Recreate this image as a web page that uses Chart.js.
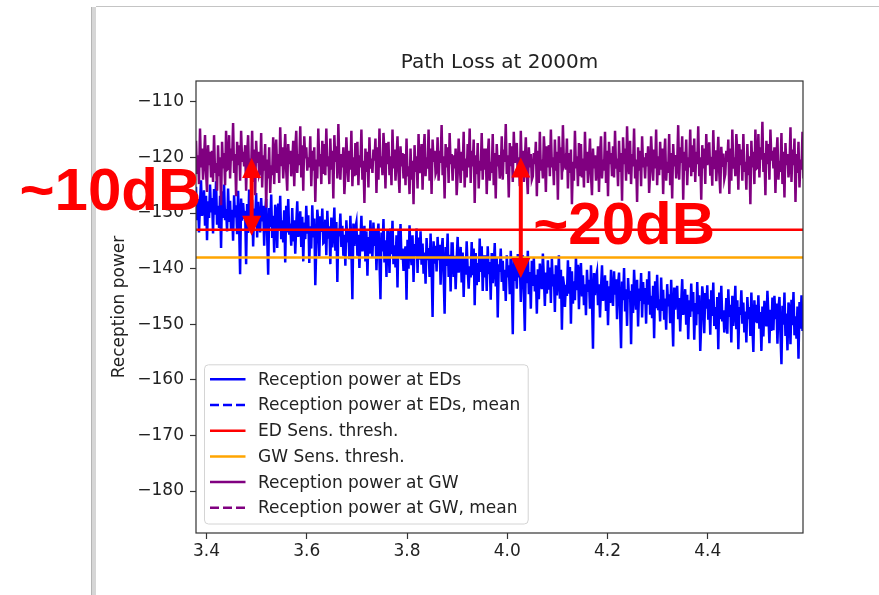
<!DOCTYPE html>
<html>
<head>
<meta charset="utf-8">
<title>Path Loss at 2000m</title>
<script src="https://cdn.jsdelivr.net/npm/chart.js@4.4.1/dist/chart.umd.min.js"></script>
<style>
  html, body { margin: 0; padding: 0; background: #fff; }
  #wrap { position: relative; width: 879px; height: 595px; overflow: hidden; }
  /* bits of the window frame that show in the screenshot */
  .edge-v { position: absolute; left: 91px; top: 7px; bottom: 0; width: 4px; background: #d6d6d6; border-left: 1px solid #b4b4b4; }
  .edge-h { position: absolute; left: 96px; right: 0; top: 6px; height: 1px; background: #c4c4c4; }
  canvas { position: absolute; left: 0; top: 0; }
</style>
</head>
<body>
<div id="wrap">
  <div class="edge-v"></div>
  <div class="edge-h"></div>
  <canvas id="plChart" width="879" height="595"></canvas>
</div>
<script>
// sample grid on the x axis, one sample every 0.002
const xStart = 3.379;
const xStep = 0.002;

// reception power at the end devices
const rxPowerED = [
  -125.3, -131.3, -127.5, -133.5, -128.3, -124.1, -130.5, -129.3, -125.9, -132.3, -126.9, -134.9, -127.9, -130.9, -124.9, -129.9,
  -127.3, -133.7, -125.7, -130.3, -124.3, -132.1, -128.7, -132.7, -126.9, -136.3, -126.1, -130.9, -124.9, -131.3, -129.3, -133.3,
  -125.6, -131.6, -127.8, -133.2, -129.4, -135.0, -126.8, -130.8, -128.6, -133.8, -126.0, -132.0, -141.0, -127.4, -131.4, -128.2,
  -131.0, -129.6, -139.2, -128.4, -133.6, -125.8, -130.4, -133.0, -127.6, -136.0, -129.2, -131.4, -126.4, -134.4, -128.0, -132.0,
  -133.5, -127.3, -131.5, -128.7, -135.9, -129.7, -127.5, -134.1, -141.1, -129.1, -132.5, -126.7, -134.5, -130.5, -137.1, -128.5,
  -129.9, -136.3, -128.3, -132.9, -126.9, -134.7, -131.3, -135.3, -129.5, -138.9, -128.7, -133.5, -127.5, -133.9, -131.9, -135.9,
  -129.1, -135.1, -131.3, -137.3, -132.1, -127.9, -134.3, -133.1, -129.7, -136.1, -130.7, -138.7, -131.7, -134.7, -128.7, -133.7,
  -130.4, -139.0, -132.4, -136.4, -128.6, -134.4, -131.0, -143.0, -136.0, -129.4, -131.6, -137.8, -130.6, -133.4, -129.2, -135.4,
  -135.2, -131.2, -137.6, -129.6, -134.6, -132.4, -139.2, -130.8, -136.2, -133.6, -129.0, -136.8, -131.6, -142.4, -132.8, -134.2,
  -130.1, -136.1, -132.3, -137.7, -133.9, -139.5, -131.3, -135.3, -133.1, -138.3, -130.5, -136.5, -145.5, -131.9, -135.9, -132.7,
  -131.7, -137.7, -133.9, -139.9, -134.7, -130.5, -136.9, -135.7, -132.3, -138.7, -133.3, -141.3, -134.3, -137.3, -131.3, -136.3,
  -137.9, -131.7, -135.9, -133.1, -140.3, -134.1, -131.9, -138.5, -145.5, -133.5, -136.9, -131.1, -138.9, -134.9, -141.5, -132.9,
  -134.4, -140.8, -132.8, -137.4, -131.4, -139.2, -135.8, -139.8, -134.0, -143.4, -133.2, -138.0, -132.0, -138.4, -136.4, -140.4,
  -137.4, -136.0, -145.6, -134.8, -140.0, -132.2, -136.8, -139.4, -134.0, -142.4, -135.6, -137.8, -132.8, -140.8, -134.4, -138.4,
  -133.3, -139.3, -135.5, -140.9, -137.1, -142.7, -134.5, -138.5, -136.3, -141.5, -133.7, -139.7, -148.7, -135.1, -139.1, -135.9,
  -140.5, -134.3, -138.5, -135.7, -142.9, -136.7, -134.5, -141.1, -148.1, -136.1, -139.5, -133.7, -141.5, -137.5, -144.1, -135.5,
  -135.5, -141.5, -137.7, -143.7, -138.5, -134.3, -140.7, -139.5, -136.1, -142.5, -137.1, -145.1, -138.1, -141.1, -135.1, -140.1,
  -143.6, -139.6, -141.6, -135.2, -141.2, -136.4, -146.6, -137.2, -143.0, -139.0, -142.4, -134.6, -140.6, -136.0, -144.0, -137.6,
  -141.6, -137.6, -144.0, -136.0, -141.0, -138.8, -145.6, -137.2, -142.6, -140.0, -135.4, -143.2, -138.0, -148.8, -139.2, -140.6,
  -136.4, -142.4, -138.6, -144.0, -140.2, -145.8, -137.6, -141.6, -139.4, -144.6, -136.8, -142.8, -151.8, -138.2, -142.2, -139.0,
  -143.6, -137.4, -141.6, -138.8, -146.0, -139.8, -137.6, -144.2, -151.2, -139.2, -142.6, -136.8, -144.6, -140.6, -147.2, -138.6,
  -143.1, -138.1, -144.1, -141.1, -148.1, -140.1, -145.5, -139.1, -142.5, -143.7, -137.3, -141.5, -146.7, -140.7, -144.5, -138.5,
  -143.8, -139.8, -146.2, -138.2, -143.2, -141.0, -147.8, -139.4, -144.8, -142.2, -137.6, -145.4, -140.2, -151.0, -141.4, -142.8,
  -146.9, -142.9, -144.9, -138.5, -144.5, -139.7, -149.9, -140.5, -146.3, -142.3, -145.7, -137.9, -143.9, -139.3, -147.3, -140.9,
  -139.0, -145.0, -141.2, -146.6, -142.8, -148.4, -140.2, -144.2, -142.0, -147.2, -139.4, -145.4, -154.4, -140.8, -144.8, -141.6,
  -140.6, -146.6, -142.8, -148.8, -143.6, -139.4, -145.8, -144.6, -141.2, -147.6, -142.2, -150.2, -143.2, -146.2, -140.2, -145.2,
  -146.7, -140.5, -144.7, -141.9, -149.1, -142.9, -140.7, -147.3, -154.3, -142.3, -145.7, -139.9, -147.7, -143.7, -150.3, -141.7,
  -145.4, -144.0, -153.6, -142.8, -148.0, -140.2, -144.8, -147.4, -142.0, -150.4, -143.6, -145.8, -140.8, -148.8, -142.4, -146.4,
  -143.5, -149.9, -141.9, -146.5, -140.5, -148.3, -144.9, -148.9, -143.1, -152.5, -142.3, -147.1, -141.1, -147.5, -145.5, -149.5,
  -141.6, -147.6, -143.8, -149.2, -145.4, -151.0, -142.8, -146.8, -144.6, -149.8, -142.0, -148.0, -154.0, -143.4, -147.4, -144.2,
  -143.1, -149.1, -145.3, -151.3, -146.1, -141.9, -148.3, -147.1, -143.7, -150.1, -144.7, -152.7, -145.7, -148.7, -142.7, -147.7,
  -144.2, -152.8, -146.2, -150.2, -142.4, -148.2, -144.8, -154.8, -149.8, -143.2, -145.4, -151.6, -144.4, -147.2, -143.0, -149.2,
  -145.5, -151.9, -143.9, -148.5, -142.5, -150.3, -146.9, -150.9, -145.1, -154.5, -144.3, -149.1, -143.1, -149.5, -147.5, -151.5,
  -149.3, -145.3, -151.7, -143.7, -148.7, -146.5, -153.3, -144.9, -150.3, -147.7, -143.1, -150.9, -145.7, -154.5, -146.9, -148.3,
  -143.9, -149.9, -146.1, -151.5, -147.7, -153.3, -145.1, -149.1, -146.9, -152.1, -144.3, -150.3, -155.0, -145.7, -149.7, -146.5,
  -149.8, -144.8, -150.8, -147.8, -154.8, -146.8, -152.2, -145.8, -149.2, -150.4, -144.0, -148.2, -153.4, -147.4, -151.2, -145.2,
  -151.1, -144.9, -149.1, -146.3, -153.5, -147.3, -145.1, -151.7, -157.2, -146.7, -150.1, -144.3, -152.1, -148.1, -154.7, -146.1,
  -147.2, -153.6, -145.6, -150.2, -144.2, -152.0, -148.6, -152.6, -146.8, -156.2, -146.0, -150.8, -144.8, -151.2, -149.2, -153.2
];

// reception power at the gateway
const rxPowerGW = [
  -117.0, -123.0, -119.6, -124.8, -114.8, -121.8, -118.4, -124.0, -120.2, -116.0, -122.6, -126.2, -117.8, -121.4, -119.0, -123.6,
  -118.8, -124.4, -116.0, -122.8, -121.0, -126.0, -117.8, -123.4, -120.0, -128.6, -117.2, -122.0, -119.2, -125.0, -115.2, -122.2,
  -122.0, -116.0, -123.8, -118.4, -120.6, -113.8, -122.8, -119.4, -127.0, -117.2, -121.4, -117.8, -124.2, -115.2, -120.8, -119.0,
  -121.6, -117.8, -126.0, -119.4, -116.0, -123.6, -120.2, -122.2, -115.2, -124.4, -118.6, -126.8, -117.0, -121.0, -119.0, -123.2,
  -122.6, -115.6, -125.4, -119.6, -122.4, -117.6, -129.0, -120.4, -123.8, -118.2, -126.4, -121.4, -123.2, -116.4, -124.8, -119.2,
  -116.8, -122.8, -119.4, -124.6, -114.6, -121.6, -118.2, -123.8, -120.0, -115.8, -122.4, -126.0, -117.6, -121.2, -118.8, -123.4,
  -120.8, -117.0, -125.2, -118.6, -115.2, -122.8, -119.4, -121.4, -114.4, -123.6, -117.8, -126.0, -116.2, -120.2, -118.2, -122.4,
  -120.0, -121.8, -116.2, -125.2, -118.8, -122.4, -118.2, -128.0, -120.4, -123.8, -114.8, -121.6, -119.4, -124.8, -117.0, -123.0,
  -117.6, -123.2, -114.8, -121.6, -119.8, -124.8, -116.6, -122.2, -118.8, -127.4, -116.0, -120.8, -118.0, -123.8, -114.0, -121.0,
  -124.0, -119.4, -121.8, -118.2, -126.6, -123.0, -116.4, -120.6, -124.4, -118.8, -122.2, -115.2, -125.2, -120.0, -123.4, -117.4,
  -123.2, -117.2, -125.0, -119.6, -121.8, -115.0, -124.0, -120.6, -128.2, -118.4, -122.6, -119.0, -125.4, -116.4, -122.0, -120.2,
  -122.8, -118.6, -120.6, -116.6, -126.4, -118.2, -124.0, -114.8, -121.8, -119.8, -123.2, -115.6, -119.0, -125.6, -117.4, -121.2,
  -117.2, -123.2, -119.8, -125.0, -115.0, -122.0, -118.6, -124.2, -120.4, -116.2, -122.8, -126.4, -118.0, -121.6, -119.2, -123.8,
  -119.4, -125.0, -116.6, -123.4, -121.6, -126.6, -118.4, -124.0, -120.6, -128.4, -117.8, -122.6, -119.8, -125.6, -115.8, -122.8,
  -121.4, -117.6, -125.8, -119.2, -115.8, -123.4, -120.0, -122.0, -115.0, -124.2, -118.4, -126.6, -116.8, -120.8, -118.8, -123.0,
  -122.4, -116.4, -124.2, -118.8, -121.0, -114.2, -123.2, -119.8, -127.4, -117.6, -121.8, -118.2, -124.6, -115.6, -121.2, -119.4,
  -124.2, -119.6, -122.0, -118.4, -126.8, -123.2, -116.6, -120.8, -124.6, -119.0, -122.4, -115.4, -125.4, -120.2, -123.6, -117.6,
  -121.8, -114.8, -124.6, -118.8, -121.6, -116.8, -128.2, -119.6, -123.0, -117.4, -125.6, -120.6, -122.4, -115.6, -124.0, -118.4,
  -122.2, -118.4, -126.6, -120.0, -116.6, -124.2, -120.8, -122.8, -115.8, -125.0, -119.2, -127.4, -117.6, -121.6, -119.6, -123.8,
  -122.2, -116.2, -124.0, -118.6, -120.8, -114.0, -123.0, -119.6, -127.2, -117.4, -121.6, -118.0, -124.4, -115.4, -121.0, -119.2,
  -117.4, -123.4, -120.0, -125.2, -115.2, -122.2, -118.8, -124.4, -120.6, -116.4, -123.0, -126.6, -118.2, -121.8, -119.4, -124.0,
  -123.4, -119.2, -121.2, -117.2, -127.0, -118.8, -124.6, -115.4, -122.4, -120.4, -123.8, -116.2, -119.6, -126.2, -118.0, -121.8,
  -117.8, -123.4, -115.0, -121.8, -120.0, -125.0, -116.8, -122.4, -119.0, -127.6, -116.2, -121.0, -118.2, -124.0, -114.2, -121.2,
  -120.4, -122.2, -116.6, -125.6, -119.2, -122.8, -118.6, -128.4, -120.8, -124.2, -115.2, -122.0, -119.8, -125.2, -117.4, -123.4,
  -117.6, -123.6, -120.2, -125.4, -115.4, -122.4, -119.0, -124.6, -120.8, -116.6, -123.2, -126.8, -118.4, -122.0, -119.6, -124.2,
  -121.8, -118.0, -126.2, -119.6, -116.2, -123.8, -120.4, -122.4, -115.4, -124.6, -118.8, -127.0, -117.2, -121.2, -119.2, -123.4,
  -118.0, -123.6, -115.2, -122.0, -120.2, -125.2, -117.0, -122.6, -119.2, -127.8, -116.4, -121.2, -118.4, -124.2, -114.4, -121.4,
  -123.0, -117.0, -124.8, -119.4, -121.6, -114.8, -123.8, -120.4, -128.0, -118.2, -122.4, -118.8, -125.2, -116.2, -121.8, -120.0,
  -123.8, -119.2, -121.6, -118.0, -126.4, -122.8, -116.2, -120.4, -124.2, -118.6, -122.0, -115.0, -125.0, -119.8, -123.2, -117.2,
  -122.2, -118.4, -126.6, -120.0, -116.6, -124.2, -120.8, -122.8, -115.8, -125.0, -119.2, -127.4, -117.6, -121.6, -119.6, -123.8,
  -121.2, -114.2, -124.0, -118.2, -121.0, -116.2, -127.6, -119.0, -122.4, -116.8, -125.0, -120.0, -121.8, -115.0, -123.4, -117.8,
  -122.6, -116.6, -124.4, -119.0, -121.2, -114.4, -123.4, -120.0, -127.6, -117.8, -122.0, -118.4, -124.8, -115.8, -121.4, -119.6,
  -117.3, -123.3, -119.9, -125.1, -115.1, -122.1, -118.7, -124.3, -120.5, -116.3, -122.9, -126.5, -118.1, -121.7, -119.3, -123.9,
  -123.0, -118.8, -120.8, -116.8, -126.6, -118.4, -124.2, -115.0, -122.0, -120.0, -123.4, -115.8, -119.2, -125.8, -117.6, -121.4,
  -118.6, -124.2, -115.8, -122.6, -120.8, -125.8, -117.6, -123.2, -119.8, -128.4, -117.0, -121.8, -119.0, -124.8, -115.0, -122.0,
  -121.8, -115.8, -123.6, -118.2, -120.4, -113.6, -122.6, -119.2, -126.8, -117.0, -121.2, -117.6, -124.0, -115.0, -120.6, -118.8,
  -122.0, -118.2, -126.4, -119.8, -116.4, -124.0, -120.6, -122.6, -115.6, -124.8, -119.0, -127.2, -117.4, -121.4, -119.4, -123.6,
  -121.6, -114.6, -124.4, -118.6, -121.4, -116.6, -128.0, -119.4, -122.8, -117.2, -125.4, -120.4, -122.2, -115.4, -123.8, -118.2
];

const edSensThresh = -133;
const gwSensThresh = -138;

const seriesLabels = [
  'Reception power at EDs',
  'Reception power at EDs, mean',
  'ED Sens. thresh.',
  'GW Sens. thresh.',
  'Reception power at GW',
  'Reception power at GW, mean'
];

const xTicks = [3.4, 3.6, 3.8, 4.0, 4.2, 4.4];
const yTicks = [-180, -170, -160, -150, -140, -130, -120, -110];
const xMin = 3.379, xMax = 4.590;
const yMin = -187.55, yMax = -106.26;

// red markup drawn over the plot
const gapArrows = [
  {x: 3.49, from: -120.1, to: -134.1},
  {x: 4.027, from: -120.0, to: -141.7}
];
const gapNotes = [
  {text: '~10dB', x: 3.027, y: -129.5},
  {text: '~20dB', x: 4.052, y: -135.5}
];

const toPoints = arr => arr.map((v, i) => ({x: +(xStart + i * xStep).toFixed(3), y: v}));
const flat = v => [{x: xMin, y: v}, {x: xMax, y: v}];

const FONT = '"DejaVu Sans", Verdana, sans-serif';
const INK = '#222';

//draw frame, title, legend and the red notes
const decorations = {
  id: 'decorations',
  afterDatasetsDraw(chart) {
    const {ctx, chartArea: a, scales} = chart;
    ctx.save();

    ctx.strokeStyle = '#333';
    ctx.lineWidth = 1.2;
    ctx.strokeRect(a.left, a.top, a.right - a.left, a.bottom - a.top);

    ctx.fillStyle = INK;
    ctx.font = '20px ' + FONT;
    ctx.textAlign = 'center';
    ctx.textBaseline = 'middle';
    ctx.fillText('Path Loss at 2000m', (a.left + a.right) / 2, 63);

    // legend box, lower left inside the axes
    ctx.font = '17px ' + FONT;
    const rowH = 25.7;
    const boxL = a.left + 8.5;
    const boxB = a.bottom - 9;
    const boxH = rowH * chart.data.datasets.length + 5;
    const boxT = boxB - boxH;
    const textX = boxL + 53.5;
    let maxW = 0;
    chart.data.datasets.forEach(ds => { maxW = Math.max(maxW, ctx.measureText(ds.label).width); });
    const boxW = textX - boxL + maxW + 8;
    ctx.beginPath();
    ctx.roundRect(boxL, boxT, boxW, boxH, 4);
    ctx.fillStyle = 'rgba(255,255,255,0.8)';
    ctx.fill();
    ctx.strokeStyle = '#d4d4d4';
    ctx.lineWidth = 1;
    ctx.stroke();

    ctx.textAlign = 'left';
    chart.data.datasets.forEach((ds, k) => {
      const ry = boxT + 14.5 + k * rowH;
      ctx.beginPath();
      ctx.setLineDash(ds.borderDash || []);
      ctx.strokeStyle = ds.borderColor;
      ctx.lineWidth = 2.5;
      ctx.moveTo(boxL + 5.5, ry);
      ctx.lineTo(boxL + 41, ry);
      ctx.stroke();
      ctx.setLineDash([]);
      ctx.fillStyle = INK;
      ctx.fillText(ds.label, textX, ry + 1);
    });

    // double arrows
    ctx.fillStyle = '#ff0000';
    ctx.strokeStyle = '#ff0000';
    gapArrows.forEach(ar => {
      const px = scales.x.getPixelForValue(ar.x);
      const y1 = scales.y.getPixelForValue(ar.from);
      const y2 = scales.y.getPixelForValue(ar.to);
      ctx.lineWidth = 4;
      ctx.beginPath();
      ctx.moveTo(px, y1 + 15);
      ctx.lineTo(px, y2 - 15);
      ctx.stroke();
      ctx.beginPath();
      ctx.moveTo(px, y1);
      ctx.lineTo(px - 9.5, y1 + 20);
      ctx.lineTo(px + 9.5, y1 + 20);
      ctx.closePath();
      ctx.moveTo(px, y2);
      ctx.lineTo(px - 9.5, y2 - 20);
      ctx.lineTo(px + 9.5, y2 - 20);
      ctx.closePath();
      ctx.fill();
    });

    ctx.font = 'bold 60px "Liberation Sans", Arial, sans-serif';
    ctx.textBaseline = 'alphabetic';
    gapNotes.forEach(n => {
      ctx.fillText(n.text, scales.x.getPixelForValue(n.x), scales.y.getPixelForValue(n.y));
    });

    ctx.restore();
  }
};

const data = {
  datasets: [
    {label: seriesLabels[0], data: toPoints(rxPowerED), borderColor: '#0000ff', order: 5},
    {label: seriesLabels[1], data: [], borderColor: '#0000ff', borderDash: [9, 4], order: 4},
    {label: seriesLabels[2], data: flat(edSensThresh), borderColor: '#ff0000', order: 3},
    {label: seriesLabels[3], data: flat(gwSensThresh), borderColor: '#ffa500', order: 2},
    {label: seriesLabels[4], data: toPoints(rxPowerGW), borderColor: '#800080', order: 1},
    {label: seriesLabels[5], data: [], borderColor: '#800080', borderDash: [9, 4], order: 0}
  ]
};

const tickGrid = {
  display: true,
  drawOnChartArea: false,
  drawTicks: true,
  tickLength: 6,
  tickColor: '#333',
  tickWidth: 1.2
};

const config = {
  type: 'line',
  data: data,
  options: {
    responsive: false,
    animation: false,
    devicePixelRatio: 1,
    parsing: false,
    clip: 0,
    layout: {padding: {left: 100, right: 76, top: 81, bottom: 0}},
    elements: {
      line: {borderWidth: 2.5, tension: 0, fill: false},
      point: {radius: 0, hoverRadius: 0}
    },
    plugins: {
      legend: {display: false},
      title: {display: false},
      tooltip: {enabled: false}
    },
    scales: {
      x: {
        type: 'linear',
        min: xMin,
        max: xMax,
        grid: tickGrid,
        border: {display: false},
        afterBuildTicks: s => { s.ticks = xTicks.map(v => ({value: v})); },
        afterFit: s => { s.height = 62; },
        ticks: {
          autoSkip: false,
          maxRotation: 0,
          padding: 2,
          color: INK,
          font: {family: FONT, size: 17},
          callback: v => v.toFixed(1)
        }
      },
      y: {
        type: 'linear',
        min: yMin,
        max: yMax,
        grid: tickGrid,
        border: {display: false},
        afterBuildTicks: s => { s.ticks = yTicks.map(v => ({value: v})); },
        afterFit: s => { s.width = 96; },
        title: {
          display: true,
          text: 'Reception power',
          color: INK,
          font: {family: FONT, size: 17},
          padding: {top: 9, bottom: 0}
        },
        ticks: {
          autoSkip: false,
          padding: 6,
          color: INK,
          font: {family: FONT, size: 17},
          callback: v => (v < 0 ? '\u2212' : '') + Math.abs(v)
        }
      }
    }
  },
  plugins: [decorations]
};

const plChart = new Chart(document.getElementById('plChart'), config);
</script>
</body>
</html>
